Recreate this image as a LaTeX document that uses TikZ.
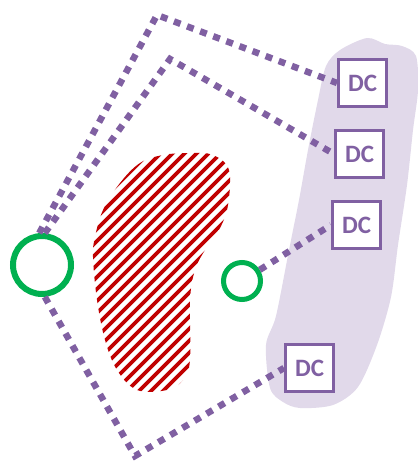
\documentclass[tikz,border=0pt]{standalone}
\usepackage{fontspec}
\setmainfont{Carlito}
\definecolor{dcpurple}{RGB}{128,96,162}
\definecolor{zonefill}{RGB}{225,217,234}
\definecolor{hubgreen}{RGB}{0,176,80}
\definecolor{hatchred}{RGB}{192,0,0}
\tikzset{
  dcbox/.style={draw=dcpurple, line width=3pt, fill=white, minimum width=48pt,
    minimum height=47pt, inner sep=0pt, text=dcpurple,
    font=\fontsize{25}{25}\selectfont\bfseries},
  site/.style={circle, draw=hubgreen, inner sep=0pt},
  link/.style={draw=dcpurple, line width=6.5pt, dash pattern=on 7pt off 7pt,
    line cap=butt, line join=miter}
}
\begin{document}
\begin{tikzpicture}[x=1pt,y=-1pt]
\useasboundingbox (0,0) rectangle (418,461);

% lavender region behind the data centres
\fill[zonefill] plot[smooth cycle, tension=0.5] coordinates {
  (367,38) (385,44) (402,46) (416,56) (418,90) (413,130) (407,185) (398,245)
  (391,297) (377,345) (358,387) (333,405) (300,408) (283,402) (270,388)
  (266,345) (276,316) (289,250) (299,200) (308,150) (318,100) (326,66) (340,50)};

% red hatched area
\begin{scope}
  \clip plot[smooth cycle, tension=0.6] coordinates {
    (190,153) (213,155) (229,170) (228,205) (220,228) (205,250) (195,270)
    (190,300) (190,360) (183,380) (167,390) (137,390) (117,370) (105,340)
    (97,300) (93,257) (95,237) (103,210) (120,183) (140,163) (163,155)};
  \foreach \c in {230,242,...,640}
    \draw[hatchred, line width=3.6pt] (\c-420,420) -- (\c-130,130);
\end{scope}

% sites
\node[site, line width=6pt, minimum size=58pt] (hub) at (42,265) {};
\node[site, line width=5pt, minimum size=37pt] (sat) at (242,281) {};

% data centres
\node[dcbox] (dc1) at (362.5,83) {DC};
\node[dcbox] (dc2) at (359.5,154) {DC};
\node[dcbox] (dc3) at (356.5,225) {DC};
\node[dcbox] (dc4) at (309.5,368) {DC};

% route bends
\coordinate (b1) at (157,15);
\coordinate (b2) at (170,59);
\coordinate (b4) at (135,456);

% links
\draw[link] (hub.95) -- (b1) -- (dc1.west);
\draw[link] (hub.85) -- (b2) -- (dc2.west);
\draw[link] (sat) -- (dc3.west);
\draw[link] (hub.-85) -- (b4) -- (dc4.west);
\end{tikzpicture}
\end{document}
